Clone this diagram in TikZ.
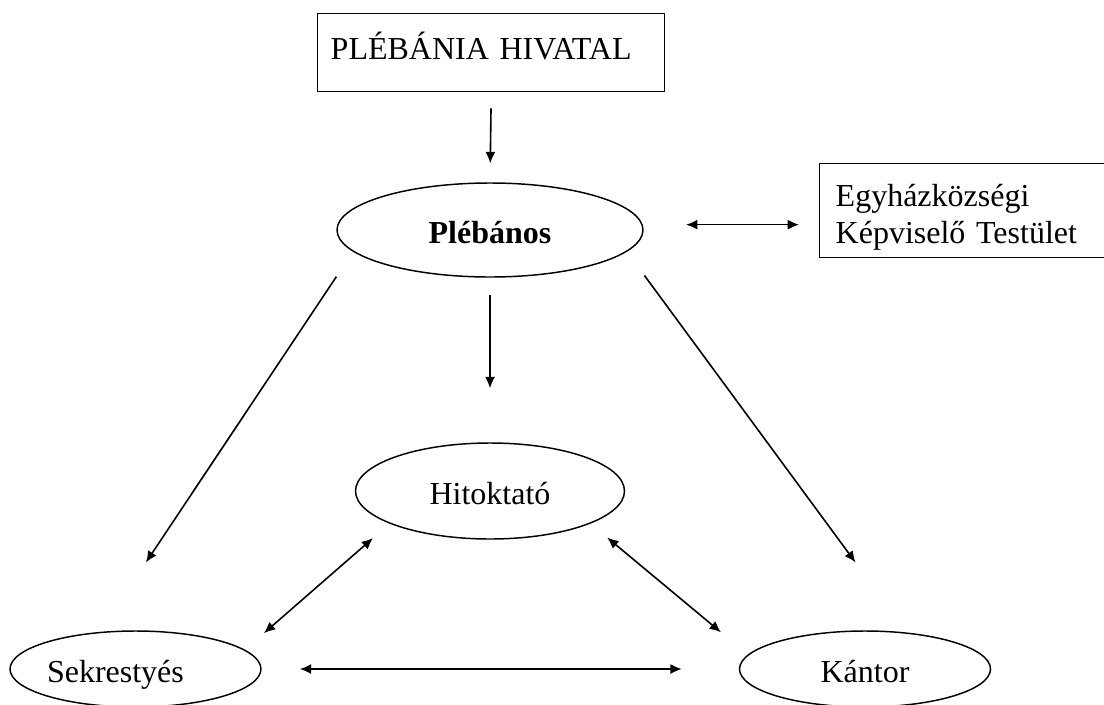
\documentclass[tikz,border=0pt]{standalone}
\usepackage{fontspec}
\setmainfont{Liberation Serif}
\usetikzlibrary{arrows.meta}
\usetikzlibrary{shapes.geometric}

\begin{document}
\begin{tikzpicture}[x=0.75pt, y=-0.75pt, font=\fontsize{24}{27.75}\selectfont,
        box/.style={rectangle, draw=black, line width=1.1pt, inner ysep=0pt, anchor=north west, align=left},
        oval/.style={ellipse, draw=black, line width=1.1pt, inner sep=0pt, minimum width=188.25pt, minimum height=57pt, text height=19.5pt, text depth=0pt},
        arr/.style={line width=1.2pt, -{Latex[length=8.5pt, width=7.5pt]}},
        dbl/.style={line width=1.2pt, {Latex[length=8.5pt, width=7.5pt]}-{Latex[length=8.5pt, width=7.5pt]}}]
        \useasboundingbox (0,0) rectangle (1104,704);
        \node[box, inner xsep=9.75pt, text width=240.75pt, text height=34.5pt, text depth=24pt] (hivatal) at (317,13) {PLÉBÁNIA HIVATAL};
        \node[box, inner xsep=12pt, text width=194.25pt, text height=32.25pt, text depth=38.25pt] (testulet) at (819,163) {Egyházközségi\\Képviselő Testület};
        \node[oval, minimum width=229.5pt, minimum height=70.5pt] (plebanos) at (490,230) {\textbf{Plébános}};
        \node[oval, minimum width=201.75pt, minimum height=72pt] (hitoktato) at (490,491) {Hitoktató};
        \node[oval, text width=132.75pt, align=left] (sekrestyes) at (135.5,669) {Sekrestyés};
        \node[oval] (kantor) at (865,669) {Kántor};
        \draw[arr, shorten <=12pt, shorten >=14.25pt] (hivatal.south) -- (plebanos.north);
        \draw[arr, shorten <=12.75pt, shorten >=40.5pt] (plebanos.south) -- (hitoktato.north);
        \draw[dbl, shorten <=32.5pt, shorten >=15pt] (plebanos.2) -- (plebanos.2 -| testulet.west);
        \foreach \a/\b/\s/\e in {plebanos.189/sekrestyes.134/22.5pt/62.6pt, plebanos.351/kantor.41/22.1pt/65.2pt}
        {
            \draw[arr, shorten <=\s, shorten >=\e] (\a) -- (\b);
        }
        \foreach \a/\b/\s/\e in {sekrestyes.10/hitoktato.198/18.9pt/16.5pt, hitoktato.342/kantor.173/16.35pt/26.2pt, sekrestyes.east/kantor.west/28.5pt/42.75pt}
        {
            \draw[dbl, shorten <=\s, shorten >=\e] (\a) -- (\b);
        }
    \end{tikzpicture}
\end{document}
